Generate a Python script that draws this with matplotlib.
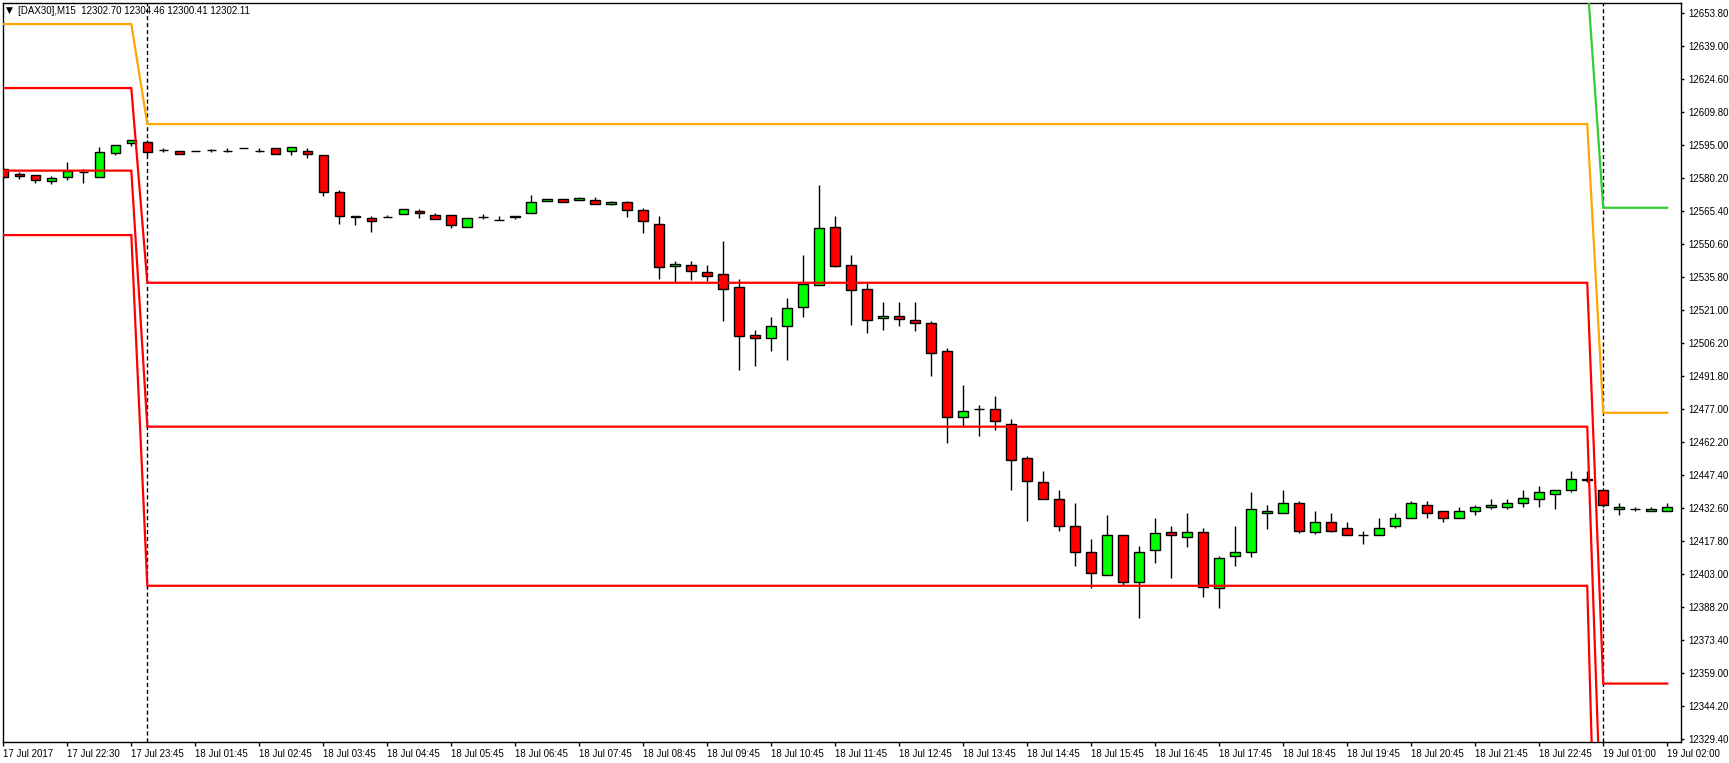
import numpy as np
import matplotlib
matplotlib.use('Agg')
import matplotlib.pyplot as plt

plt.rcParams['font.family'] = ['Liberation Sans', 'DejaVu Sans']

# DAX30 M15 bars, index 0 = leftmost bar
opens = [12584.1, 12582.0, 12581.4, 12579.0, 12580.5, 12582.7, 12580.8, 12591.5, 12596.0, 12596.1,
         12592.6, 12592.1, 12592.1, 12592.6, 12592.1, 12593.5, 12592.1, 12593.5, 12592.1, 12592.1,
         12590.3, 12573.8, 12563.1, 12562.2, 12562.6, 12564.0, 12565.3, 12563.5, 12563.5, 12558.1,
         12562.6, 12561.5, 12562.6, 12564.4, 12569.8, 12570.7, 12570.2, 12570.2, 12568.4, 12569.3,
         12565.7, 12559.5, 12540.7, 12541.2, 12538.0, 12537.1, 12531.3, 12509.9, 12508.5, 12513.9,
         12522.4, 12532.2, 12558.1, 12541.2, 12530.4, 12517.5, 12518.4, 12516.6, 12515.2, 12502.7,
         12473.2, 12476.8, 12477.2, 12470.5, 12454.9, 12444.2, 12437.0, 12424.5, 12413.3, 12403.0,
         12420.5, 12399.9, 12413.8, 12422.2, 12420.0, 12422.2, 12397.2, 12411.1, 12412.9, 12430.7,
         12430.7, 12434.8, 12422.2, 12426.7, 12423.6, 12420.5, 12420.9, 12424.5, 12428.5, 12433.9,
         12431.2, 12428.5, 12431.6, 12433.0, 12433.4, 12434.8, 12437.0, 12438.8, 12441.0, 12445.5,
         12440.6, 12432.5, 12432.1, 12431.2, 12431.6]
highs = [12585.1, 12582.9, 12581.4, 12581.1, 12587.3, 12584.1, 12594.0, 12594.8, 12597.3, 12597.2,
         12593.5, 12592.1, 12592.1, 12593.0, 12593.5, 12593.5, 12593.5, 12593.5, 12593.9, 12593.5,
         12590.3, 12574.8, 12563.1, 12563.1, 12563.5, 12566.2, 12566.2, 12564.4, 12563.5, 12562.2,
         12564.0, 12563.1, 12563.1, 12572.6, 12570.7, 12570.7, 12571.6, 12571.6, 12569.8, 12569.8,
         12566.6, 12563.1, 12542.9, 12542.9, 12541.2, 12551.9, 12535.3, 12512.5, 12517.9, 12526.4,
         12545.6, 12576.9, 12563.1, 12545.6, 12533.1, 12524.7, 12524.7, 12524.7, 12516.1, 12504.1,
         12487.5, 12478.6, 12483.0, 12472.3, 12455.9, 12449.5, 12441.0, 12434.8, 12419.1, 12429.8,
         12420.5, 12416.0, 12428.5, 12424.5, 12430.3, 12423.6, 12411.5, 12424.5, 12439.7, 12434.3,
         12440.6, 12436.1, 12431.2, 12430.3, 12426.3, 12422.7, 12428.1, 12430.7, 12435.7, 12435.7,
         12431.6, 12433.0, 12433.9, 12436.6, 12436.6, 12440.6, 12442.4, 12441.0, 12449.5, 12449.5,
         12440.6, 12434.8, 12433.4, 12433.4, 12434.8]
lows = [12580.2, 12579.9, 12578.1, 12577.6, 12579.4, 12578.1, 12580.8, 12590.6, 12594.6, 12590.5,
        12591.9, 12590.8, 12592.1, 12591.9, 12591.9, 12593.5, 12591.9, 12590.8, 12590.6, 12589.3,
        12572.3, 12559.7, 12559.3, 12556.2, 12562.6, 12564.0, 12562.4, 12562.0, 12558.0, 12558.1,
        12562.0, 12561.3, 12561.7, 12564.4, 12569.8, 12569.3, 12570.2, 12568.4, 12568.0, 12562.9,
        12555.7, 12535.2, 12533.1, 12534.7, 12534.3, 12516.4, 12494.5, 12496.3, 12503.0, 12499.0,
        12518.2, 12532.2, 12540.5, 12514.6, 12511.0, 12512.2, 12514.0, 12511.8, 12491.7, 12461.9,
        12469.0, 12464.8, 12467.5, 12440.7, 12427.0, 12436.8, 12422.5, 12406.9, 12397.2, 12403.0,
        12398.4, 12383.6, 12408.2, 12401.7, 12415.4, 12393.0, 12388.1, 12406.9, 12410.9, 12423.4,
        12430.7, 12421.6, 12421.2, 12422.2, 12420.5, 12416.7, 12420.5, 12423.6, 12428.1, 12428.5,
        12426.7, 12428.5, 12429.7, 12432.5, 12432.5, 12433.0, 12433.0, 12432.1, 12439.7, 12444.4,
        12433.0, 12429.8, 12431.2, 12431.2, 12431.2]
closes = [12580.8, 12580.9, 12579.4, 12580.0, 12583.4, 12582.7, 12591.7, 12594.8, 12597.0, 12591.9,
          12592.6, 12590.8, 12592.1, 12592.6, 12592.1, 12593.5, 12592.1, 12590.8, 12593.9, 12590.8,
          12573.8, 12563.1, 12562.7, 12560.8, 12562.6, 12566.2, 12564.4, 12562.0, 12559.0, 12562.2,
          12562.6, 12561.3, 12563.1, 12569.3, 12570.7, 12569.3, 12571.1, 12568.4, 12569.3, 12565.7,
          12560.8, 12540.3, 12541.6, 12538.5, 12536.2, 12530.4, 12509.4, 12508.5, 12513.9, 12521.9,
          12532.7, 12557.7, 12541.0, 12530.0, 12516.6, 12518.4, 12517.0, 12515.5, 12501.8, 12473.5,
          12476.3, 12476.8, 12471.7, 12454.3, 12444.9, 12436.8, 12424.8, 12413.3, 12403.5, 12420.5,
          12399.9, 12413.3, 12421.4, 12420.9, 12422.2, 12397.5, 12410.6, 12413.3, 12432.1, 12431.6,
          12434.8, 12422.7, 12426.7, 12422.7, 12420.5, 12420.5, 12424.0, 12428.5, 12434.8, 12430.7,
          12428.1, 12431.6, 12433.4, 12433.9, 12434.8, 12437.4, 12440.1, 12441.0, 12445.9, 12445.2,
          12433.9, 12433.4, 12432.1, 12432.1, 12433.0]

# daily pivot levels (17 Jul, 18 Jul, 19 Jul) and number of bars of each day on screen
day_bars = [9, 91, 5]
pivot = [12649.0, 12604.3, 12475.3]
r1 = [12685.9, 12668.6, 12566.9]
s1 = [12620.4, 12533.4, 12354.3]
s2 = [12583.5, 12469.1, 12262.7]
s3 = [12554.7, 12398.0, 12141.7]
day_sep = [9, 100]

xtick_pos = list(range(0, 105, 4))
xtick_labels = ['17 Jul 2017', '17 Jul 22:30', '17 Jul 23:45',
                '18 Jul 01:45', '18 Jul 02:45', '18 Jul 03:45', '18 Jul 04:45', '18 Jul 05:45',
                '18 Jul 06:45', '18 Jul 07:45', '18 Jul 08:45', '18 Jul 09:45', '18 Jul 10:45',
                '18 Jul 11:45', '18 Jul 12:45', '18 Jul 13:45', '18 Jul 14:45', '18 Jul 15:45',
                '18 Jul 16:45', '18 Jul 17:45', '18 Jul 18:45', '18 Jul 19:45', '18 Jul 20:45',
                '18 Jul 21:45', '18 Jul 22:45', '19 Jul 01:00', '19 Jul 02:00']
ytick_labels = ['12653.80', '12639.00', '12624.60', '12609.80', '12595.00', '12580.20',
                '12565.40', '12550.60', '12535.80', '12521.00', '12506.20', '12491.80',
                '12477.00', '12462.20', '12447.40', '12432.60', '12417.80', '12403.00',
                '12388.20', '12373.40', '12359.00', '12344.20', '12329.40']


o = np.array(opens)
h = np.array(highs)
l = np.array(lows)
c = np.array(closes)
x = np.arange(len(o))

fig = plt.figure(figsize=(17.29, 7.63), dpi=100)
ax = fig.add_axes([3/1729, 21/763, 1678/1729, 739/763])

# period separators
for d in day_sep:
    ax.axvline(d, color='black', lw=1, ls=(0, (3, 2)), zorder=1)

# candles
ax.vlines(x, l, h, color='black', lw=1, zorder=2)
body_w = 0.6
flat = c == o
cols = np.where(c > o, '#00FF00', '#FF0000')
ax.bar(x[~flat], np.abs(c - o)[~flat], bottom=np.minimum(o, c)[~flat], width=body_w,
       color=cols[~flat], edgecolor='black', linewidth=1, zorder=3)
ax.hlines(o[flat], x[flat] - body_w/2, x[flat] + body_w/2, color='black', lw=1, zorder=3)

# pivot lines
for vals, col in [(s3, '#FF0000'), (s2, '#FF0000'), (s1, '#FF0000'),
                  (pivot, '#FFA500'), (r1, '#32CD32')]:
    ax.plot(x, np.repeat(vals, day_bars), color=col, lw=1.6, zorder=4, solid_joinstyle='miter')

ax.set_xlim(-0.02, 104.86)
ax.set_ylim(12328.2, 12658.4)

ax.yaxis.tick_right()
ax.set_yticks(np.linspace(12653.8, 12329.4, len(ytick_labels)))
ax.set_yticklabels(ytick_labels)
ax.set_xticks(xtick_pos)
ax.set_xticklabels(xtick_labels)
for lab in ax.get_xticklabels():
    lab.set_ha('left')
ax.tick_params(axis='y', direction='out', length=2.5, width=1, pad=2.5, labelsize=7)
ax.tick_params(axis='x', direction='out', length=2.7, width=1, pad=2.5, labelsize=7)
for sp in ax.spines.values():
    sp.set_linewidth(1)
    sp.set_color('black')

fig.text(6/1729, 1 - 10.7/763, '\u25BC', fontsize=6.5, va='center', ha='left',
         family='DejaVu Sans')
fig.text(18/1729, 1 - 10.7/763, '[DAX30],M15  12302.70 12304.46 12300.41 12302.11',
         fontsize=7, va='center', ha='left')

fig.savefig('out.png', dpi=100)
